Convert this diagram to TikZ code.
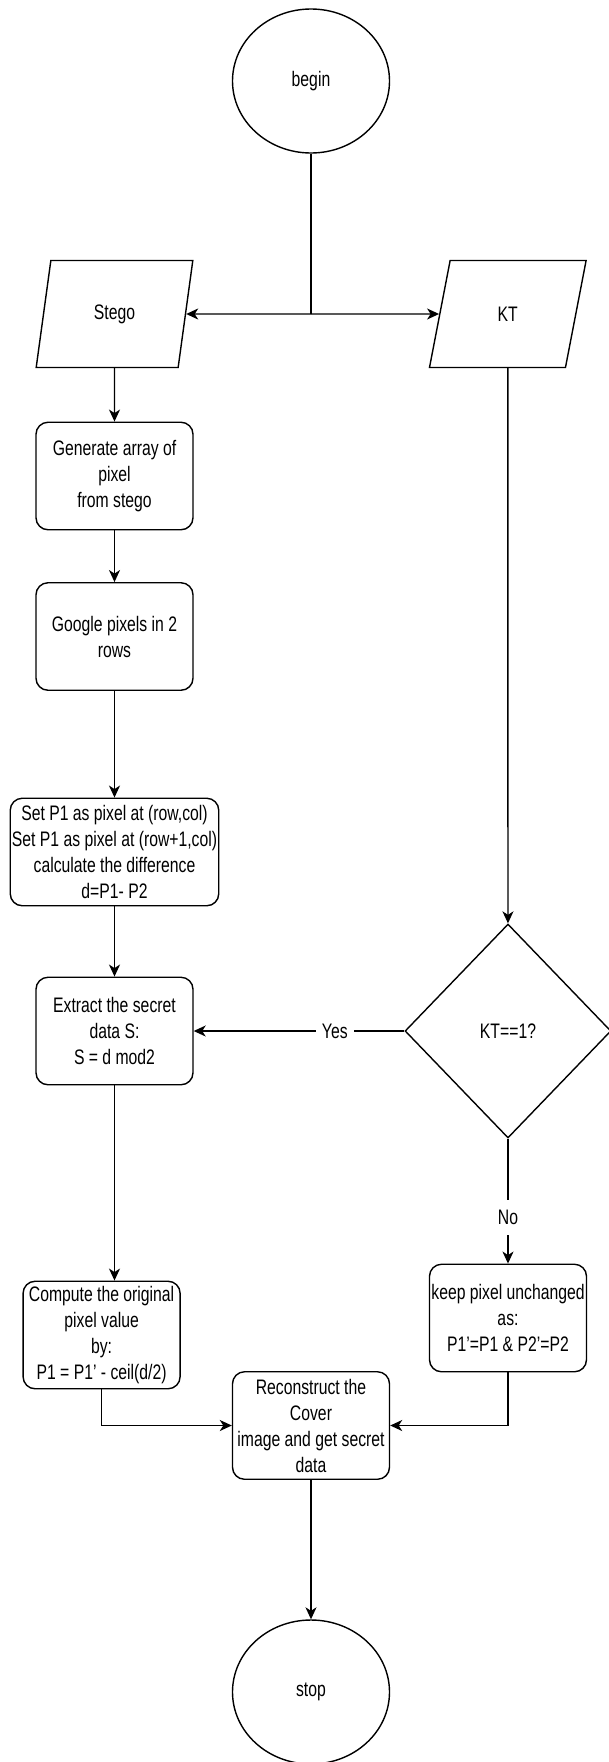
\documentclass[tikz,border=0pt]{standalone}
\usepackage{fontspec}
\setmainfont[FakeStretch=0.75]{Liberation Sans}
\usepackage{tikz}
\usetikzlibrary{shapes.geometric,arrows.meta,positioning,calc}

\begin{document}
\begin{tikzpicture}[->, >={Stealth[length=12pt,width=11pt,inset=3.5pt]}, x=1pt, y=-1pt, line width=1.4pt, font=\fontsize{21}{26}\selectfont]
        \tikzstyle{every node}=[text=black]
        \tikzstyle{term}=[ellipse,draw,minimum width=157pt,minimum height=144pt,inner sep=0pt]
        \tikzstyle{io}=[trapezium,trapezium left angle=76,trapezium right angle=104,trapezium stretches=true,draw,minimum width=157pt,minimum height=107pt,inner sep=0pt]
        \tikzstyle{proc}=[rectangle,rounded corners=12pt,draw,align=center,minimum width=157pt,minimum height=107.5pt,inner sep=0pt]
        \tikzstyle{cond}=[diamond,draw,minimum width=206pt,minimum height=214pt,inner sep=0pt]
        \tikzstyle{lbl}=[fill=white,inner xsep=6pt,inner ysep=10pt]
        \useasboundingbox (0,0) rectangle (608,1762);

        \node[term]    (A) at (311,81)          {begin};
        \node[io]      (B) at (114.5,314)       {Stego};
        \node[io]      (C)[node distance=393.3pt, right of=B]   {KT};

        \node[proc]    (D)[node distance=162pt, below of=B]     {Generate array of\\pixel\\from stego};
        \node[proc]    (E)[node distance=160.5pt, below of=D]   {Google pixels in 2\\rows};
        \node[proc,minimum width=208.5pt] (F)[node distance=215.5pt, below of=E]
                {Set P1 as pixel at (row,col)\\Set P1 as pixel at (row+1,col)\\calculate the difference\\d=P1- P2};
        \node[proc]    (G)[node distance=179pt, below of=F]     {Extract the secret\\data S:\\S = d mod2};

        \node[cond]    (H)[node distance=393.5pt, right of=G]   {KT==1?};
        \node[proc]    (I)[node distance=287pt, below of=H]     {keep pixel unchanged\\as:\\P1'=P1 \& P2'=P2};

        \node[proc]    (J) at (101.6,1335)      {Compute the original\\pixel value\\by:\\P1 = P1' - ceil(d/2)};
        \node[proc]    (K)[node distance=1344.5pt, below of=A]  {Reconstruct the\\Cover\\image and get secret\\data};
        \node[term]    (L)[node distance=266.5pt, below of=K]   {stop};

        \coordinate (M) at (A |- B);
        \draw[-] (A) -- (M);
        \path
        (M)
        edge    (B)
        edge    (C)

        (B)     edge    (D)
        (D)     edge    (E)
        (E)     edge    (F)
        (F)     edge    (G)
        (C)     edge    (H)

        (H)
        edge    node[lbl,pos=0.33]{Yes}     (G)
        edge    node[lbl,pos=0.63]{No}      (I)

        (K)     edge    (L);

        \draw (G) -- (G |- J.north);
        \draw (J) |- (K);
        \draw (I) |- (K);
    \end{tikzpicture}
\end{document}
